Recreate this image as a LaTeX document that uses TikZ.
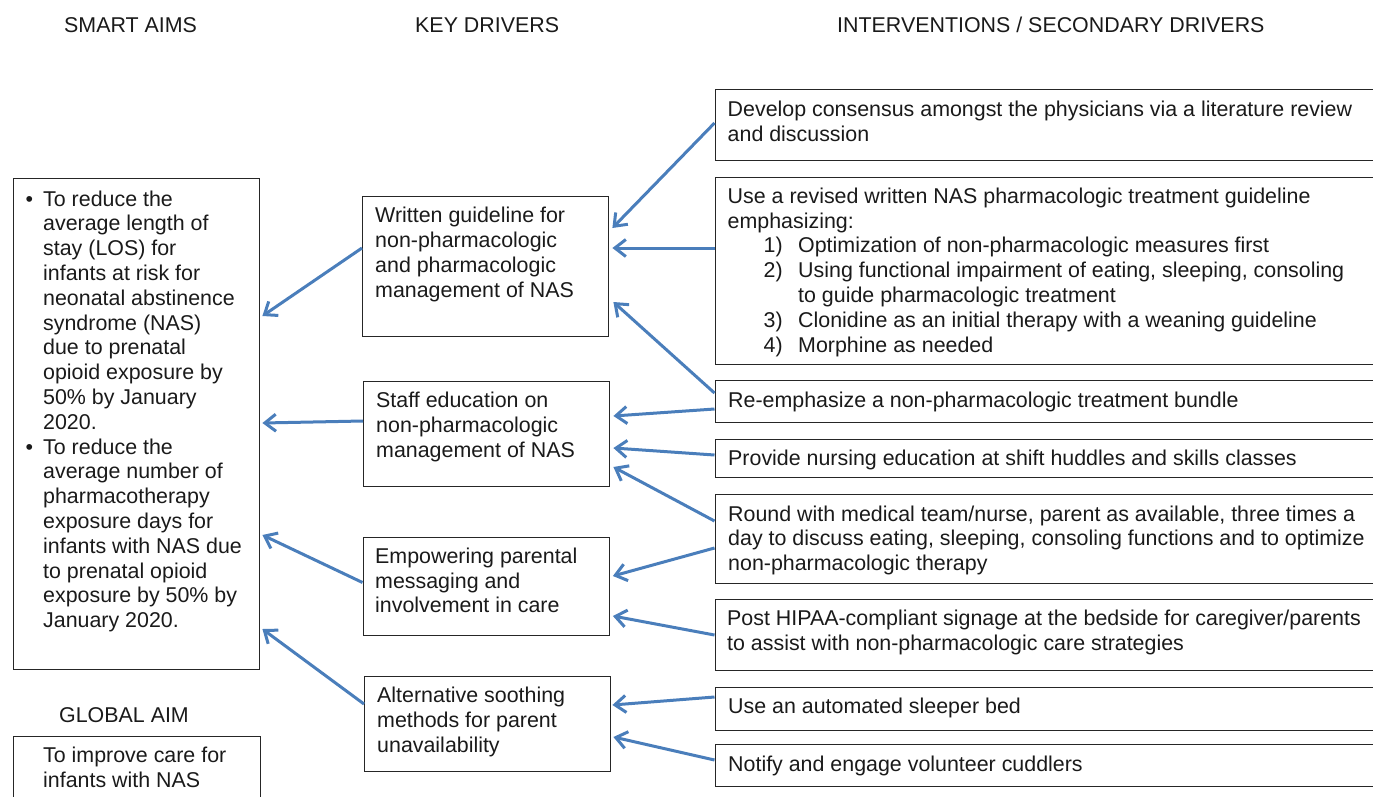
\documentclass[tikz,border=0pt]{standalone}
\usepackage{fontspec}
\setmainfont{Liberation Sans}
\usetikzlibrary{arrows.meta,calc}
\definecolor{arrowblue}{HTML}{4A7EBB}
\definecolor{boxline}{HTML}{262626}
\definecolor{txtcol}{HTML}{1A1A1A}
\begin{document}
\begin{tikzpicture}[x=1pt,y=-1pt,
  box/.style={draw=boxline, line width=1.4pt, rectangle, inner sep=0pt, anchor=north west},
  txt/.style={anchor=base west, inner sep=0pt, align=left, text=txtcol, font=\fontsize{21.4}{24.8}\selectfont},
  arr/.style={draw=arrowblue, line width=3pt, -{Straight Barb[length=11pt,width=17pt]}}]
\useasboundingbox (0,0) rectangle (1373,796);
\clip (0,0) rectangle (1373,796);

% headers
\node[txt] (h1) at (64,32.5) {SMART AIMS};
\node[txt] (h2) at (415,32.5) {KEY DRIVERS};
\node[txt] (h3) at (837,32.5) {INTERVENTIONS / SECONDARY DRIVERS};
\node[txt] (h4) at (59,722) {GLOBAL AIM};

% boxes
\node[box, minimum width=246pt, minimum height=491pt] (smart) at (13,178) {};
\node[box, minimum width=247pt, minimum height=80pt] (global) at (13,736) {};
\node[box, minimum width=246pt, minimum height=140pt] (k1) at (362,196) {};
\node[box, minimum width=246pt, minimum height=105pt] (k2) at (363,381) {};
\node[box, minimum width=246pt, minimum height=98.5pt] (k3) at (362.5,536.5) {};
\node[box, minimum width=246pt, minimum height=95pt] (k4) at (364,676) {};
\node[box, minimum width=670pt, minimum height=71pt] (i1) at (714.5,89) {};
\node[box, minimum width=670pt, minimum height=187pt] (i2) at (714.5,177) {};
\node[box, minimum width=670pt, minimum height=42pt] (i3) at (714.5,380) {};
\node[box, minimum width=670pt, minimum height=38pt] (i4) at (714.5,439) {};
\node[box, minimum width=670pt, minimum height=89pt] (i5) at (714.5,494) {};
\node[box, minimum width=670pt, minimum height=71pt] (i6) at (714.5,599) {};
\node[box, minimum width=670pt, minimum height=43pt] (i7) at (714.5,687) {};
\node[box, minimum width=670pt, minimum height=42pt] (i8) at (714.5,744) {};

% texts (anchored at the baseline of their last line)
\node[txt] (smartt) at (43,627.6) {\llap{\textbullet\hspace{10pt}}To reduce the\\average length of\\stay (LOS) for\\infants at risk for\\neonatal abstinence\\syndrome (NAS)\\due to prenatal\\opioid exposure by\\50\% by January\\2020.\\\llap{\textbullet\hspace{10pt}}To reduce the\\average number of\\pharmacotherapy\\exposure days for\\infants with NAS due\\to prenatal opioid\\exposure by 50\% by\\January 2020.};
\node[txt] (globalt) at (43,787.5) {To improve care for\\infants with NAS};
\node[txt] (k1t) at (375,297.1) {Written guideline for\\non-pharmacologic\\and pharmacologic\\management of NAS};
\node[txt] (k2t) at (376,457.3) {Staff education on\\non-pharmacologic\\management of NAS};
\node[txt] (k3t) at (375,612.9) {Empowering parental\\messaging and\\involvement in care};
\node[txt] (k4t) at (377,752.3) {Alternative soothing\\methods for parent\\unavailability};
\node[txt] (i1t) at (727.5,141) {Develop consensus amongst the physicians via a literature review\\and discussion};
\node[txt] (i2t) at (727.5,352.1) {Use a revised written NAS pharmacologic treatment guideline\\emphasizing:\\
\hspace*{36pt}\makebox[34.5pt][l]{1)}Optimization of non-pharmacologic measures first\\
\hspace*{36pt}\makebox[34.5pt][l]{2)}Using functional impairment of eating, sleeping, consoling\\
\hspace*{70.5pt}to guide pharmacologic treatment\\
\hspace*{36pt}\makebox[34.5pt][l]{3)}Clonidine as an initial therapy with a weaning guideline\\
\hspace*{36pt}\makebox[34.5pt][l]{4)}Morphine as needed};
\node[txt] (i3t) at (728,407.3) {Re-emphasize a non-pharmacologic treatment bundle};
\node[txt] (i4t) at (728,465) {Provide nursing education at shift huddles and skills classes};
\node[txt] (i5t) at (728,570.6) {Round with medical team/nurse, parent as available, three times a\\day to discuss eating, sleeping, consoling functions and to optimize\\non-pharmacologic therapy};
\node[txt] (i6t) at (727,650.5) {Post HIPAA-compliant signage at the bedside for caregiver/parents\\to assist with non-pharmacologic care strategies};
\node[txt] (i7t) at (728,713.3) {Use an automated sleeper bed};
\node[txt] (i8t) at (728,771) {Notify and engage volunteer cuddlers};

% arrows: key drivers -> smart aims
\draw[arr] ($(k1.north west)+(0,52)$) -- ($(smart.north east)+(2,138)$);
\draw[arr] ($(k2.north west)+(0,40)$) -- ($(smart.north east)+(2,245)$);
\draw[arr] ($(k3.north west)+(0,46)$) -- ($(smart.north east)+(2,357)$);
\draw[arr] ($(k4.north west)+(0,28)$) -- ($(smart.north east)+(2,451)$);

% arrows: interventions -> key drivers
\draw[arr] ($(i1.north west)+(0,34)$) -- ($(k1.north east)+(3,32)$);
\draw[arr] ($(i2.north west)+(0,71)$) -- ($(k1.north east)+(3,52)$);
\draw[arr] ($(i3.north west)+(0,13)$) -- ($(k1.north east)+(4,106)$);
\draw[arr] ($(i3.north west)+(0,29)$) -- ($(k2.north east)+(3,35)$);
\draw[arr] ($(i4.north west)+(0,16)$) -- ($(k2.north east)+(3,67)$);
\draw[arr] ($(i5.north west)+(0,27)$) -- ($(k2.north east)+(3,86)$);
\draw[arr] ($(i5.north west)+(0,54)$) -- ($(k3.north east)+(3,39.5)$);
\draw[arr] ($(i6.north west)+(0,36)$) -- ($(k3.north east)+(3,79.5)$);
\draw[arr] ($(i7.north west)+(0,10)$) -- ($(k4.north east)+(1,29)$);
\draw[arr] ($(i8.north west)+(0,16)$) -- ($(k4.north east)+(2,61)$);
\end{tikzpicture}
\end{document}
